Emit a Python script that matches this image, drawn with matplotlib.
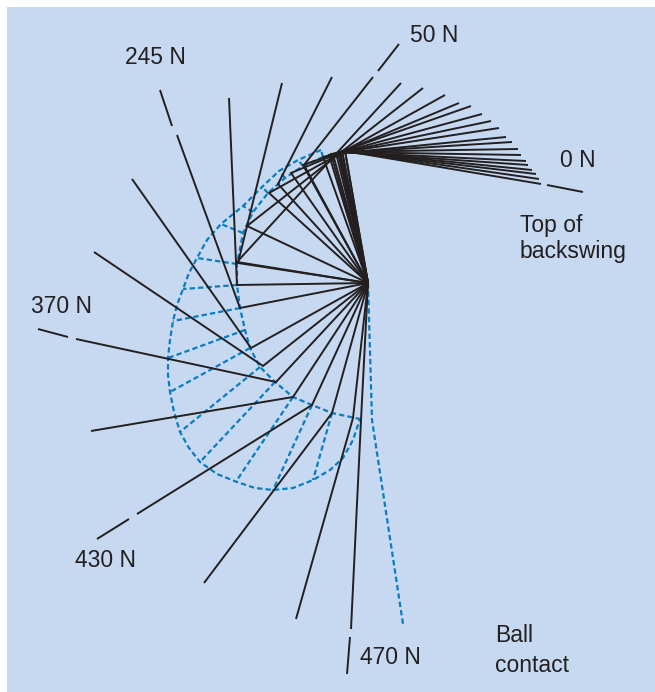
import matplotlib
matplotlib.use("Agg")
import matplotlib.pyplot as plt
from matplotlib.patches import Rectangle

# ---------------- data (image pixel coords) -------------
shoulder = (368, 283)

# club frames: hand position and club-head position (black)
hand_x = [345, 345, 342, 342, 340, 340, 338, 338, 336, 333, 331, 329, 323, 303, 291, 269, 247, 237,
          304, 278, 238, 237, 240, 251, 263, 276, 293, 312, 332, 353, 361]
hand_y = [151, 151, 151, 151, 152, 152, 152, 152, 153, 154, 154, 155, 157, 165, 173, 193, 226, 262,
          165, 184, 263, 285, 308, 348, 366, 382, 397, 405, 413, 418, 420]
head_x = [541, 539, 536, 532, 528, 526, 521, 518, 512, 506, 499, 491, 482, 471, 459, 445, 423, 401,
          373, 332, 282, 229, 177, 132, 94, 76, 91, 137, 204, 296, 351]
head_y = [184, 179, 174, 170, 165, 161, 155, 149, 142, 137, 128, 121, 114, 106, 103, 95, 88, 83,
          77, 77, 83, 98, 135, 179, 252, 339, 431, 514, 583, 619, 629]

# ball contact frame (blue dashed)
contact_hand = (372, 420)
contact_head = (403, 624)

# force labels and their leader segments
force_labels = ["0 N", "50 N", "245 N", "370 N", "430 N", "470 N"]
label_x = [560, 410, 125, 31, 75, 360]
label_y = [167, 42, 64, 313, 567, 664]
leader_x0 = [547, 378, 172, 68, 129, 350]
leader_y0 = [185, 71, 126, 337, 519, 637]
leader_x1 = [583, 399, 160, 38, 97, 347]
leader_y1 = [192, 44, 90, 329, 539, 674]

# hand path (blue dashed) and arm extensions to the outer curve
inner_x = [323, 303, 285, 268, 253, 243, 237, 237, 240, 245, 250, 260, 275, 293, 312, 332, 360]
inner_y = [157, 166, 178, 193, 212, 233, 264, 285, 308, 330, 348, 367, 382, 397, 405, 413, 419]
outer_x = [321, 298, 279, 262, 243, 221, 197, 183, 173, 168, 170, 180, 200, 237, 273, 313, 360]
outer_y = [150, 160, 171, 187, 206, 224, 258, 289, 321, 358, 392, 432, 462, 480, 490, 480, 419]
curve_x = [321, 298, 279, 262, 243, 221, 207, 197, 189, 183, 177, 173, 170, 168, 168, 170, 174, 180,
           189, 200, 217, 237, 255, 273, 293, 313, 330, 343, 353, 360]
curve_y = [150, 160, 171, 187, 206, 224, 240, 258, 273, 289, 305, 321, 340, 358, 375, 392, 412, 432,
           448, 462, 474, 482, 488, 490, 488, 480, 470, 458, 440, 419]

text_top = ["Top of", "backswing"]
text_top_y = [232, 258]
text_ball = ["Ball", "contact"]
text_ball_y = [642, 672]

# ---------------- drawing -------------
W, H = 655, 692
fig = plt.figure(figsize=(W / 100, H / 100), dpi=100)
fig.patch.set_facecolor("white")
ax = fig.add_axes([0, 0, 1, 1])
ax.set_xlim(0, W)
ax.set_ylim(H, 0)
ax.axis("off")
ax.add_patch(Rectangle((7, 7), W - 7, H - 7, facecolor="#c6d9f0", edgecolor="none", zorder=0))

black = "#231f20"
blue = "#0a7cc2"
lw_b = 1.4
dash_kw = dict(color=blue, lw=1.6, linestyle=(0, (2.4, 1.4)), dash_capstyle="butt", zorder=2)

# blue dashed structure
ax.plot(curve_x, curve_y, **dash_kw)
ax.plot(inner_x, inner_y, **dash_kw)
for xi, yi, xo, yo in zip(inner_x, inner_y, outer_x, outer_y):
    ax.plot([xi, xo], [yi, yo], **dash_kw)
ax.plot([shoulder[0], contact_hand[0], contact_head[0]],
        [shoulder[1], contact_hand[1], contact_head[1]], **dash_kw)

# black arms and clubs
for hx, hy, cx, cy in zip(hand_x, hand_y, head_x, head_y):
    ax.plot([shoulder[0], hx, cx], [shoulder[1], hy, cy], color=black, lw=lw_b,
            solid_capstyle="butt", solid_joinstyle="miter", zorder=3)

# leaders
for x0, y0, x1, y1 in zip(leader_x0, leader_y0, leader_x1, leader_y1):
    ax.plot([x0, x1], [y0, y1], color=black, lw=lw_b, solid_capstyle="butt", zorder=3)

font = dict(family=["Liberation Sans", "DejaVu Sans"], fontsize=16.5, color=black)
for s, x, y in zip(force_labels, label_x, label_y):
    ax.text(x, y, s, ha="left", va="baseline", **font)
for s, y in zip(text_top, text_top_y):
    ax.text(520, y, s, ha="left", va="baseline", **font)
for s, y in zip(text_ball, text_ball_y):
    ax.text(495, y, s, ha="left", va="baseline", **font)

fig.savefig("out.png", dpi=100, facecolor="white")
